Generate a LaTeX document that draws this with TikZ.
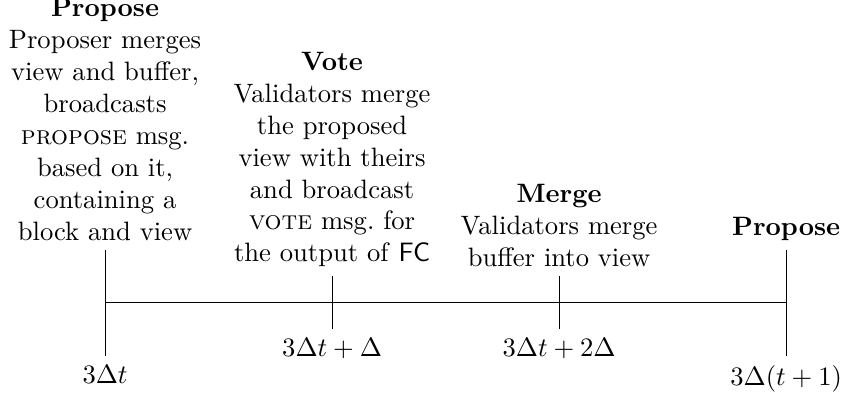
\documentclass[tikz,border=0pt]{standalone}
\usetikzlibrary{positioning}
\begin{document}
\begin{tikzpicture}[
  desc/.style={text width=2.7cm, align=center, above, inner sep=0.333em},
  tlabel/.style={below, inner sep=0.333em}
]
\useasboundingbox (-39.5pt,-35.7pt) rectangle (276.7pt,113.9pt);
\coordinate (t0) at (0,0);
\coordinate (t1) at (3,0);
\coordinate (t2) at (6,0);
\coordinate (t3) at (9,0);
\coordinate (t0top) at (0,0.7);
\coordinate (t0bot) at (0,-0.7);
\coordinate (t1top) at (3,0.35);
\coordinate (t1bot) at (3,-0.35);
\coordinate (t2top) at (6,0.35);
\coordinate (t2bot) at (6,-0.35);
\coordinate (t3top) at (9,0.7);
\coordinate (t3bot) at (9,-0.7);
\draw (t0) -- (t3);
\draw (t0top) -- (t0bot);
\draw (t1top) -- (t1bot);
\draw (t2top) -- (t2bot);
\draw (t3top) -- (t3bot);
\node[desc] (propose) at (t0top) {\textbf{Propose}\\ Proposer merges view and buffer, broadcasts \textsc{propose} msg.\ based on it, containing a block and view};
\node[desc] (vote) at (t1top) {\textbf{Vote}\\ Validators merge the proposed view with theirs and broadcast \textsc{vote} msg.\ for the output of \textsf{FC}};
\node[desc] (merge) at (t2top) {\textbf{Merge}\\ Validators merge buffer into view};
\node[desc] (propose2) at (t3top) {\textbf{Propose}};
\node[tlabel] (l0) at (t0bot) {$3\Delta t$};
\node[tlabel] (l1) at (t1bot) {$3\Delta t + \Delta$};
\node[tlabel] (l2) at (t2bot) {$3\Delta t + 2\Delta$};
\node[tlabel] (l3) at (t3bot) {$3\Delta (t+1)$};
\end{tikzpicture}
\end{document}
